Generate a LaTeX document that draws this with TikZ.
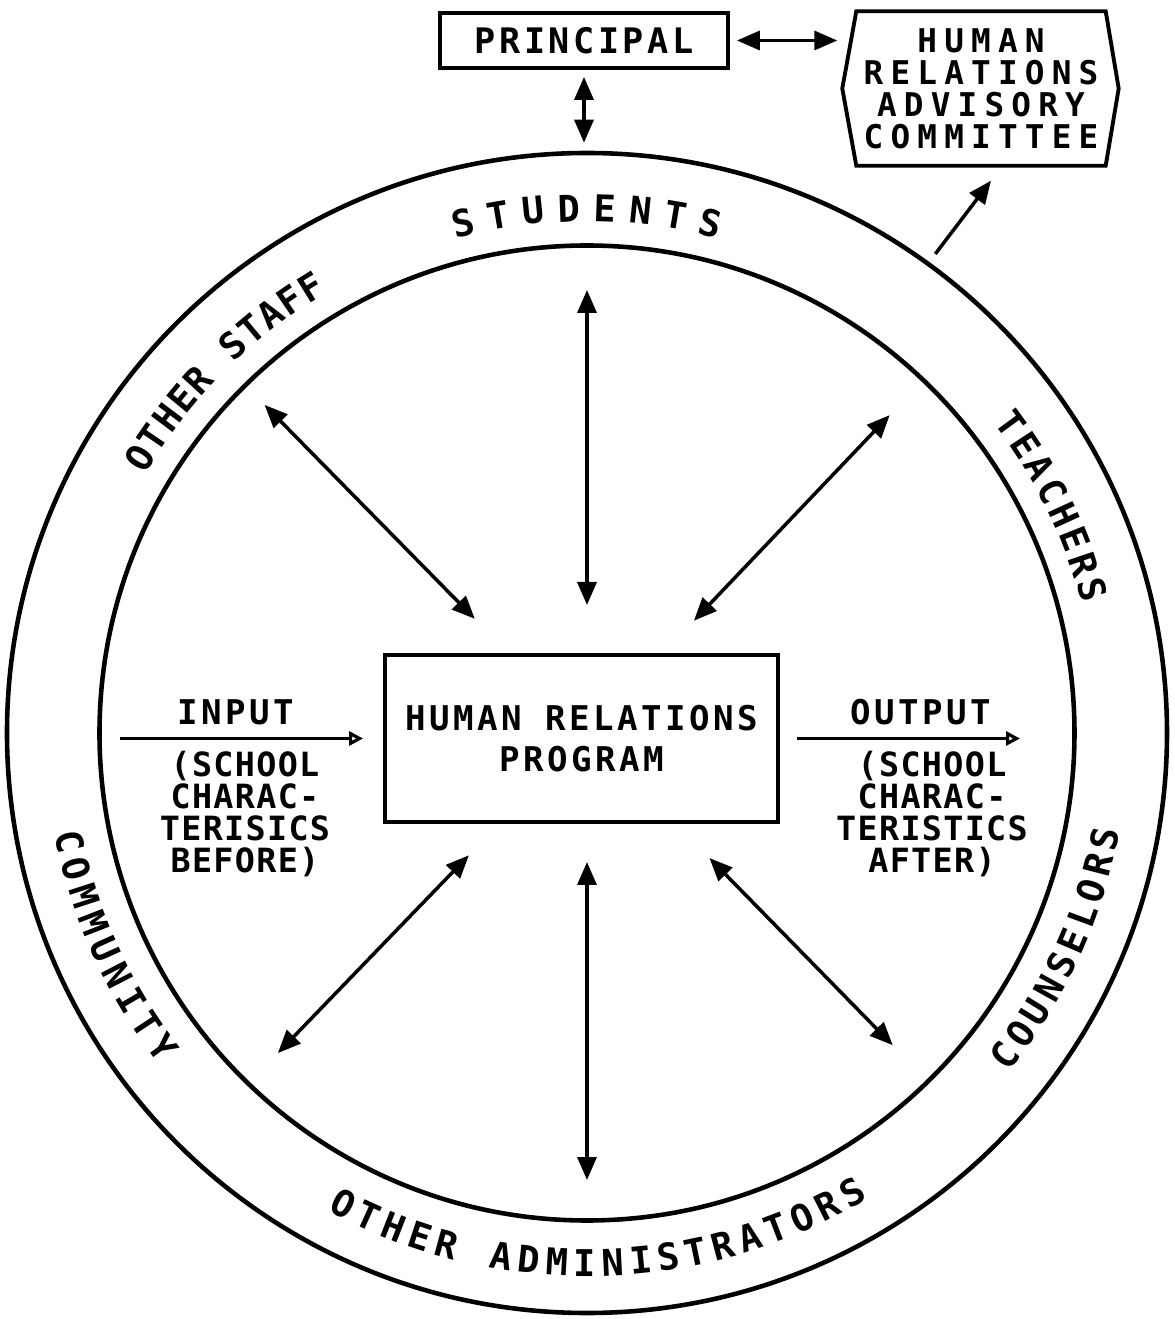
\documentclass[tikz,border=0pt]{standalone}
\usepackage{fontspec}
\newfontfamily\boxfont[LetterSpace=10]{DejaVu Sans Mono}
\newfontfamily\sidefont[LetterSpace=4]{DejaVu Sans Mono}
\newfontfamily\ringfont{DejaVu Sans Mono}
\newfontfamily\topfont[LetterSpace=22]{DejaVu Sans Mono}
\usetikzlibrary{arrows.meta}
\begin{document}
\begin{tikzpicture}
 \tikzstyle{unit} = [draw, line width=1.1pt];
 \tikzstyle{link} = [{Triangle[length=2.3mm,width=1.9mm]}-{Triangle[length=2.3mm,width=1.9mm]}, line width=1pt];
 \tikzstyle{flow} = [-{Triangle[length=2.3mm,width=1.9mm]}, line width=1pt];
 \tikzstyle{feed} = [-{Triangle[open,length=1.4mm,width=1.4mm]}, line width=0.9pt];
 \tikzstyle{ring} = [inner sep=0pt, font=\ringfont\bfseries\fontsize{10.5}{12}\selectfont];
 \tikzstyle{label} = [font=\boxfont\bfseries\fontsize{9.7}{11.7}\selectfont];
 \tikzstyle{side} = [align=center, font=\sidefont\bfseries\fontsize{9.5}{9.1}\selectfont];
 \useasboundingbox (-5.87,-5.86) rectangle (5.87,7.33);

\node [draw, circle, line width=1.3pt, minimum size=11.6cm] (v3) at (0,0) {};
\node [draw, circle, line width=1.3pt, minimum size=9.75cm] (v0) at (0,0) {};

\node [unit, label, minimum width=2.88cm, minimum height=0.55cm, font=\boxfont\bfseries\fontsize{10}{12}\selectfont] (v1) at (-0.03,6.925) {PRINCIPAL};
\node [align=center, minimum width=2.48cm, minimum height=1.53cm, inner sep=0pt, font=\topfont\bfseries\fontsize{9.3}{9.1}\selectfont] (v2) at (3.94,6.445) {HUMAN\\RELATIONS\\ADVISORY\\COMMITTEE};
\draw [line width=1.1pt] (v2.north west) -- (v2.north east) -- ([xshift=1.3mm]v2.east) -- (v2.south east) -- (v2.south west) -- ([xshift=-1.4mm]v2.west) -- cycle;

\draw [link, shorten <=0.7mm, shorten >=1.9mm] (v1.east) -- (v1.east -| v2.west);
\draw [link, shorten <=0.7mm, shorten >=0.8mm] (v1.south) -- (v1.south |- v3.north);
\draw [flow, shorten <=1mm] (v3.54) -- ([xshift=1mm,yshift=-1.5mm]v2.south);

\node [unit, label, align=center, minimum width=3.93cm, minimum height=1.67cm] (v4) at (-0.055,-0.055) {HUMAN RELATIONS\\PROGRAM};

\node [label] (v5) at (-3.51,0.21) {INPUT};
\node [side] (v6) at (-3.42,-0.81) {(SCHOOL\\CHARAC-\\TERISICS\\BEFORE)};
\node [label] (v7) at (3.34,0.21) {OUTPUT};
\node [side] (v8) at (3.45,-0.81) {(SCHOOL\\CHARAC-\\TERISTICS\\AFTER)};
\coordinate (c1) at (-4.67,-0.055);
\coordinate (c2) at (4.33,-0.055);
\draw [feed, shorten >=2mm] (c1) -- (v4.west);
\draw [feed, shorten <=1.7mm] (v4.east) -- (c2);

% spokes
\foreach \a/\r/\R [count=\i] in {90/1.28/4.43, 134.5/1.6/4.6, 46.4/1.55/4.39, 226/1.7/4.45, 314.4/1.75/4.37, 270/1.29/4.47}
{
 \coordinate (p\i) at (\a:\r);
 \coordinate (q\i) at (\a:\R);
 \draw [link] (p\i) -- (q\i);
}

% ring letters
\foreach \c [count=\i] in {S,T,U,D,E,N,T,S}
 \node [ring, rotate={3.9*(4.5-\i)}] (s\i) at ({90+3.9*(4.5-\i)}:5.25) {\c};
\foreach \c [count=\i] in {O,T,H,E,R,{},S,T,A,F,F}
 \node [ring, rotate={45.1+2.66*(6-\i)}] (f\i) at ({135.1+2.66*(6-\i)}:5.25) {\c};
\foreach \c [count=\i] in {T,E,A,C,H,E,R,S}
 \node [ring, rotate={-64+2.9*(4.5-\i)}] (t\i) at ({26+2.9*(4.5-\i)}:5.25) {\c};
\foreach \c [count=\i] in {C,O,U,N,S,E,L,O,R,S}
 \node [ring, rotate={65.4-2.9*(5.5-\i)}] (k\i) at ({-24.6-2.9*(5.5-\i)}:5.28) {\c};
\foreach \c [count=\i] in {C,O,M,M,U,N,I,T,Y}
 \node [ring, rotate={294.2-3.09*(5-\i)}] (m\i) at ({204.2-3.09*(5-\i)}:5.28) {\c};
\foreach \c [count=\i] in {O,T,H,E,R,{},A,D,M,I,N,I,S,T,R,A,T,O,R,S}
 \node [ring, rotate={1.3-3.02*(10.5-\i)}] (d\i) at ({271.3-3.02*(10.5-\i)}:5.3) {\c};

\end{tikzpicture}
\end{document}
